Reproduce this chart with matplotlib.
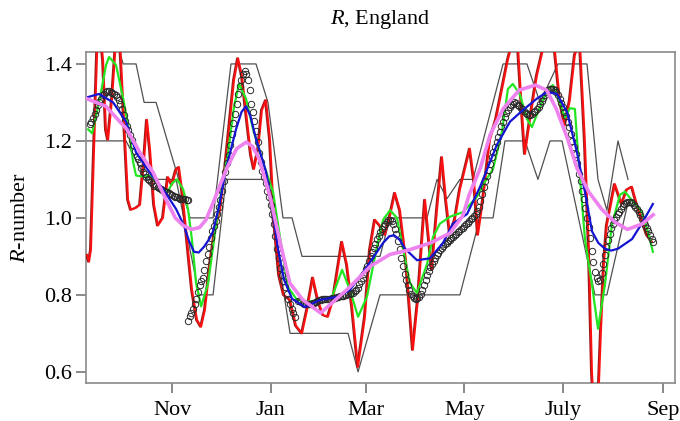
import numpy as np
import matplotlib
matplotlib.use('Agg')
import matplotlib.pyplot as plt
import matplotlib.transforms as mtransforms

plt.rcParams['font.family'] = ['Liberation Serif', 'DejaVu Serif']
plt.rcParams['mathtext.fontset'] = 'custom'
plt.rcParams['mathtext.it'] = 'Liberation Serif:italic'
plt.rcParams['mathtext.rm'] = 'Liberation Serif'

# ---------------- data (x = days since 1 Nov 2020) ----------------
month_ticks = [0, 61, 120, 181, 242, 304]
month_labels = ['Nov', 'Jan', 'Mar', 'May', 'July', 'Sep']
y_ticks = [0.6, 0.8, 1.0, 1.2, 1.4]
y_tick_labels = ['0.6', '0.8', '1.0', '1.2', '1.4']

red_days = [-52.6, -51.4, -50.2, -48.3, -46.4, -44.6, -42.7, -40.9, -39.6, -37.2,
            -34.7, -32.2, -29.7, -27.2, -25.4, -22.3, -19.8, -17.3, -15.5, -13.6,
            -11.1, -8.7, -5.6, -2.5, 0.0, 2.5, 4.3, 6.2, 8.7, 12.4,
            15.5, 18.0, 20.4, 23.5, 26.6, 29.7, 32.8, 35.9, 38.4, 40.9,
            43.3, 46.4, 48.9, 50.8, 53.3, 55.7, 58.2, 60.7, 63.2, 66.3,
            69.3, 73.1, 76.8, 80.5, 83.6, 87.3, 90.4, 93.5, 96.6, 99.7,
            105.3, 108.4, 111.5, 115.2, 119.5, 122.6, 125.7, 128.8, 131.9, 135.0,
            138.1, 141.2, 144.9, 149.2, 152.3, 156.7, 161.0, 164.1, 167.2, 169.7,
            172.1, 175.2, 178.3, 184.5, 187.0, 189.5, 192.6, 196.9, 200.6, 204.3,
            208.0, 211.1, 214.2, 216.7, 218.6, 221.7, 226.0, 231.0, 234.1, 237.1,
            240.2, 243.3, 246.4, 249.5, 252.6, 255.7, 258.2, 260.1, 261.9, 263.8,
            265.6, 267.5, 269.3, 274.3, 278.6, 281.7, 284.9, 288.0, 291.0, 294.1,
            297.2]
red_vals = [0.904, 0.886, 0.917, 1.177, 1.43, 1.49, 1.41, 1.229, 1.203, 1.306,
            1.46, 1.46, 1.255, 1.047, 1.021, 1.026, 1.034, 1.151, 1.255, 1.177,
            1.034, 0.98, 1.0, 1.106, 1.086, 1.125, 1.132, 1.073, 0.969, 0.813,
            0.735, 0.717, 0.761, 0.878, 0.969, 1.02, 1.125, 1.255, 1.358, 1.415,
            1.37, 1.255, 1.164, 1.127, 1.177, 1.28, 1.306, 1.203, 0.995, 0.852,
            0.80, 0.787, 0.72, 0.70, 0.76, 0.845, 0.787, 0.748, 0.743, 0.787,
            0.938, 0.878, 0.77, 0.613, 0.743, 0.917, 0.995, 0.98, 0.956, 1.005,
            1.065, 1.02, 0.89, 0.657, 0.787, 1.047, 0.865, 1.02, 1.158, 1.047,
            0.96, 0.995, 1.073, 1.18, 1.10, 0.956, 1.047, 1.203, 1.255, 1.332,
            1.41, 1.46, 1.45, 1.28, 1.166, 1.255, 1.37, 1.46, 1.47, 1.436,
            1.306, 1.24, 1.306, 1.423, 1.46, 1.20, 0.92, 0.60, 0.45, 0.50,
            0.70, 0.88, 0.98, 1.088, 1.036, 1.073, 1.081, 1.034, 0.995, 0.956,
            0.938]

green_days = [-52.0, -49.5, -45.2, -40.9, -39.0, -34.7, -30.3, -27.2, -24.1, -22.3,
              -17.3, -13.6, -9.9, -6.2, -2.5, 0.0, 3.1, 6.8, 9.9, 12.4,
              14.9, 18.0, 22.3, 26.0, 29.1, 34.7, 38.4, 41.5, 45.8, 50.2,
              56.3, 62.5, 65.0, 68.7, 71.8, 77.4, 83.6, 91.6, 99.1, 105.3,
              110.2, 115.2, 120.7, 126.9, 130.7, 135.0, 139.3, 143.0, 147.4, 151.7,
              157.9, 161.6, 165.9, 172.1, 180.2, 188.9, 192.6, 198.8, 204.3, 208.0,
              211.1, 215.5, 219.8, 222.9, 226.6, 232.8, 235.9, 240.2, 243.3, 246.4,
              249.5, 251.4, 255.7, 260.1, 263.8, 268.1, 272.4, 277.4, 280.5, 285.5,
              291.0, 294.7, 297.8]
green_vals = [1.23, 1.22, 1.30, 1.397, 1.418, 1.397, 1.31, 1.24, 1.145, 1.11,
              1.107, 1.11, 1.095, 1.075, 1.068, 1.09, 1.10, 1.075, 1.023, 0.94,
              0.83, 0.77, 0.83, 0.943, 1.035, 1.17, 1.29, 1.348, 1.31, 1.23,
              1.145, 1.068, 1.0, 0.90, 0.82, 0.787, 0.782, 0.787, 0.795, 0.865,
              0.813, 0.743, 0.795, 0.925, 0.995, 1.02, 1.0, 0.92, 0.83, 0.805,
              0.88, 0.95, 0.985, 1.003, 1.015, 1.055, 1.086, 1.127, 1.223, 1.335,
              1.348, 1.32, 1.257, 1.236, 1.275, 1.335, 1.345, 1.30, 1.26, 1.285,
              1.283, 1.17, 0.946, 0.826, 0.712, 0.826, 0.982, 1.06, 1.068, 1.042,
              1.016, 0.965, 0.912]

blue_days = [-52.0, -45.2, -36.5, -28.5, -22.3, -14.2, -5.6, 2.5, 7.4, 10.5,
             13.6, 16.5, 19.8, 23.0, 25.4, 29.1, 33.4, 39.6, 43.0, 45.8,
             48.5, 52.0, 58.2, 61.9, 65.6, 69.3, 74.3, 82.4, 91.6, 102.2,
             110.2, 120.7, 130.7, 134.5, 137.5, 141.0, 144.3, 151.7, 159.8, 167.8,
             174.0, 182.7, 190.7, 201.2, 209.3, 217.3, 226.0, 232.2, 238.4, 244.6,
             250.8, 255.7, 260.1, 264.0, 268.1, 272.0, 276.2, 284.9, 291.6, 297.8]
blue_vals = [1.314, 1.322, 1.30, 1.25, 1.17, 1.12, 1.075, 1.023, 0.98, 0.94,
             0.912, 0.91, 0.925, 0.945, 0.965, 1.03, 1.127, 1.23, 1.275, 1.29,
             1.265, 1.205, 1.12, 1.03, 0.92, 0.84, 0.79, 0.768, 0.787, 0.795,
             0.813, 0.873, 0.935, 0.952, 0.955, 0.943, 0.92, 0.89, 0.895, 0.935,
             0.985, 1.01, 1.08, 1.19, 1.25, 1.28, 1.31, 1.327, 1.322, 1.275,
             1.17, 1.068, 0.965, 0.935, 0.92, 0.915, 0.92, 0.945, 0.99, 1.036]

violet_days = [-53, -41, -28, -20, -12, -4, 2, 7, 12, 17,
               21, 25, 34, 40, 46, 50, 54, 61, 67, 73,
               81, 92, 102, 110, 123, 135, 147, 160, 172, 180,
               184, 191, 197, 205, 215, 225, 232, 238, 245, 251,
               258, 266, 274, 282, 291, 298]
violet_vals = [1.31, 1.29, 1.23, 1.17, 1.12, 1.05, 1.00, 0.98, 0.97, 0.975,
               0.995, 1.035, 1.13, 1.18, 1.197, 1.185, 1.153, 1.05, 0.935, 0.83,
               0.787, 0.753, 0.79, 0.82, 0.875, 0.905, 0.917, 0.935, 0.96, 1.005,
               1.06, 1.13, 1.216, 1.283, 1.332, 1.345, 1.332, 1.283, 1.205, 1.127,
               1.068, 1.023, 0.99, 0.97, 0.984, 1.008]

upper_days = [-38.4, -30.3, -22.3, -17.3, -9.9, 11.1, 25.4, 36.5, 52.0, 59.4,
              68.7, 74.3, 80.5, 128.8, 135.0, 157.9, 164.1, 170.3, 178.3, 186.4,
              205.0, 219.8, 227.9, 239.0, 257.0, 263.8, 269.3, 276.2, 282.4]
upper_vals = [1.52, 1.40, 1.40, 1.30, 1.30, 1.0, 1.0, 1.40, 1.40, 1.30,
              1.0, 1.0, 0.90, 0.90, 1.0, 1.0, 1.1, 1.05, 1.1, 1.1,
              1.40, 1.40, 1.30, 1.40, 1.40, 1.1, 1.02, 1.2, 1.1]

lower_days = [-53.3, -28.5, -16.1, 2.5, 16.7, 25.4, 33.4, 58.2, 73.1, 109.0,
              115.2, 128.8, 178.3, 190.7, 198.8, 206.2, 218.6, 226.6, 234.1, 241.5,
              261.9, 269.3, 282.4]
lower_vals = [1.2, 1.2, 1.1, 1.1, 0.8, 0.8, 1.1, 1.1, 0.70, 0.70,
              0.60, 0.80, 0.80, 1.0, 1.0, 1.2, 1.2, 1.10, 1.2, 1.2,
              0.8, 0.8, 1.04]

# daily estimates shown as open circles (three runs)
circ_autumn_start = -51
circ_autumn_vals = [1.245, 1.25, 1.26, 1.27, 1.28, 1.293, 1.302, 1.31, 1.318, 1.323,
                    1.327, 1.33, 1.33, 1.328, 1.325, 1.322, 1.318, 1.313, 1.307, 1.297,
                    1.283, 1.267, 1.253, 1.24, 1.228, 1.215, 1.202, 1.19, 1.175, 1.162,
                    1.152, 1.142, 1.13, 1.12, 1.113, 1.107, 1.102, 1.098, 1.093, 1.087,
                    1.084, 1.082, 1.079, 1.077, 1.075, 1.072, 1.07, 1.068, 1.066, 1.064,
                    1.062, 1.06, 1.058, 1.055, 1.053, 1.051, 1.05, 1.049, 1.048, 1.048,
                    1.047, 1.047]
circ_winter_start = 10
circ_winter_vals = [0.731, 0.744, 0.753, 0.764, 0.775, 0.789, 0.808, 0.825, 0.836, 0.845,
                    0.865, 0.888, 0.905, 0.925, 0.948, 0.965, 0.98, 0.993, 1.01, 1.028,
                    1.047, 1.071, 1.095, 1.12, 1.143, 1.164, 1.19, 1.218, 1.247, 1.27,
                    1.295, 1.322, 1.342, 1.358, 1.375, 1.382, 1.373, 1.357, 1.333, 1.297,
                    1.275, 1.252, 1.225, 1.198, 1.168, 1.145, 1.123, 1.107, 1.09, 1.071,
                    1.053, 1.034, 1.01, 0.983, 0.952, 0.92, 0.895, 0.871, 0.852, 0.835,
                    0.82, 0.803, 0.788, 0.776, 0.764, 0.752, 0.743]
circ_spring_start = 78
circ_spring_vals = [0.785, 0.783, 0.781, 0.779, 0.777, 0.776, 0.775, 0.775, 0.776, 0.778,
                    0.78, 0.782, 0.784, 0.786, 0.787, 0.788, 0.788, 0.789, 0.789, 0.79,
                    0.79, 0.791, 0.792, 0.793, 0.794, 0.795, 0.796, 0.797, 0.798, 0.799,
                    0.8, 0.801, 0.803, 0.805, 0.806, 0.809, 0.813, 0.819, 0.827, 0.835,
                    0.845, 0.855, 0.866, 0.876, 0.887, 0.9, 0.911, 0.922, 0.933, 0.944,
                    0.954, 0.963, 0.971, 0.979, 0.985, 0.99, 0.994, 0.995, 0.992, 0.983,
                    0.972, 0.958, 0.94, 0.918, 0.896, 0.874, 0.855, 0.838, 0.825, 0.812,
                    0.803, 0.797, 0.792, 0.79, 0.791, 0.795, 0.802, 0.813, 0.826, 0.838,
                    0.852, 0.862, 0.872, 0.88, 0.889, 0.897, 0.904, 0.91, 0.917, 0.922,
                    0.927, 0.931, 0.935, 0.94, 0.943, 0.947, 0.951, 0.955, 0.959, 0.963,
                    0.967, 0.971, 0.975, 0.979, 0.983, 0.987, 0.992, 0.997, 1.001, 1.006,
                    1.011, 1.017, 1.027, 1.045, 1.063, 1.08, 1.096, 1.11, 1.124, 1.14,
                    1.157, 1.172, 1.185, 1.197, 1.21, 1.224, 1.238, 1.25, 1.262, 1.272,
                    1.28, 1.287, 1.293, 1.297, 1.3, 1.298, 1.294, 1.29, 1.286, 1.282,
                    1.277, 1.273, 1.27, 1.268, 1.268, 1.27, 1.274, 1.279, 1.283, 1.288,
                    1.296, 1.304, 1.312, 1.32, 1.326, 1.331, 1.334, 1.335, 1.335, 1.332,
                    1.327, 1.32, 1.31, 1.298, 1.288, 1.276, 1.264, 1.25, 1.235, 1.218,
                    1.2, 1.185, 1.165, 1.142, 1.115, 1.095, 1.07, 1.048, 1.025, 1.0,
                    0.976, 0.948, 0.915, 0.885, 0.86, 0.845, 0.835, 0.838, 0.858, 0.88,
                    0.903, 0.925, 0.942, 0.958, 0.975, 0.985, 0.995, 1.002, 1.009, 1.016,
                    1.024, 1.03, 1.035, 1.039, 1.041, 1.042, 1.041, 1.038, 1.034, 1.029,
                    1.023, 1.016, 1.007, 0.998, 0.99, 0.982, 0.975, 0.966, 0.956, 0.945,
                    0.938]

# ---------------- figure ----------------
fig = plt.figure(figsize=(6.8, 4.21), dpi=100)
ax = fig.add_axes([86 / 680, 1 - 383 / 421, (675 - 86) / 680, (383 - 52) / 421])

gray = '#505050'
ax.plot(upper_days, upper_vals, color=gray, lw=0.9, zorder=2)
ax.plot(lower_days, lower_vals, color=gray, lw=0.9, zorder=2)

shift = mtransforms.offset_copy(ax.transData, fig=fig, x=-1.1, y=0, units='dots')
ax.plot(red_days, red_vals, color='#9b1c1c', lw=1.3, zorder=3, transform=shift)
ax.plot(red_days, red_vals, color='#ff1010', lw=1.4, zorder=3.1)
ax.plot(green_days, green_vals, color='#22e622', lw=1.6, zorder=3.2)

for start, vals in [(circ_autumn_start, circ_autumn_vals),
                    (circ_winter_start, circ_winter_vals),
                    (circ_spring_start, circ_spring_vals)]:
    days = np.arange(start, start + len(vals))
    ax.plot(days, vals, linestyle='none', marker='o', ms=4.6, mfc='none',
            mec='#2a2a2a', mew=0.7, zorder=3.5)

ax.plot(blue_days, blue_vals, color='#1414d2', lw=1.6, zorder=4)
ax.plot(violet_days, violet_vals, color='#ee82ee', lw=2.6, zorder=4.1)

ax.set_xlim(-53.3, 311.5)
ax.set_ylim(0.571, 1.431)
ax.set_xticks(month_ticks)
ax.set_xticklabels(month_labels)
ax.set_yticks(y_ticks)
ax.set_yticklabels(y_tick_labels)

for s in ax.spines.values():
    s.set_color('#8a8a8a')
    s.set_linewidth(1.2)
ax.tick_params(axis='both', which='major', direction='out', length=7,
               width=1.1, color='#6a6a6a', labelsize=16, labelcolor='black', pad=3)
ax.tick_params(axis='x', pad=6)

ax.set_ylabel(r'$\it{R}$-number', fontsize=16, labelpad=10)
ax.set_title(r'$\it{R}$, England', fontsize=16, pad=20)

fig.savefig('out.png', dpi=100)
